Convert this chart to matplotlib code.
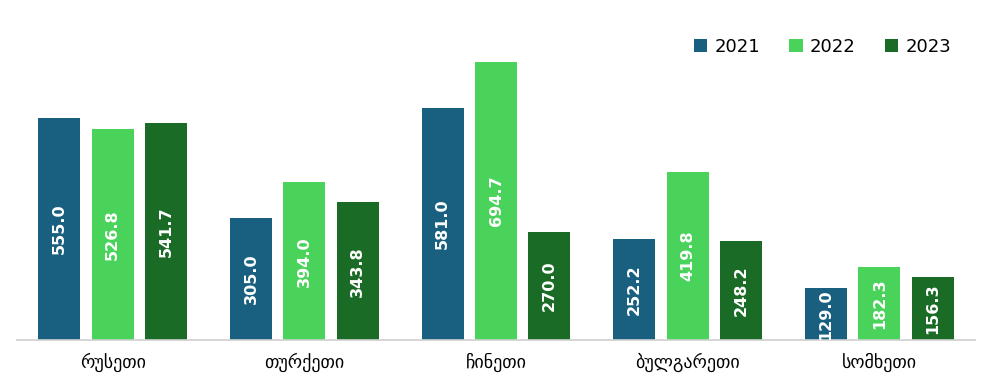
import matplotlib
matplotlib.use("Agg")
import matplotlib.pyplot as plt
import numpy as np

categories = ["რუსეთი", "თურქეთი", "ჩინეთი", "ბულგარეთი", "სომხეთი"]
years = ["2021", "2022", "2023"]
v2021 = [555.0, 305.0, 581.0, 252.2, 129.0]
v2022 = [526.8, 394.0, 694.7, 419.8, 182.3]
v2023 = [541.7, 343.8, 270.0, 248.2, 156.3]
colors = ["#185F80", "#49D35A", "#1A6B25"]

plt.rcParams['font.family'] = ['DejaVu Sans']
fig = plt.figure(figsize=(9.97, 3.81), dpi=100)
ax = fig.add_axes([17/997, 1 - 340/381, (975-17)/997, 320/381])

x = np.arange(len(categories))
width = 0.219
step = 0.279
series = [v2021, v2022, v2023]
for i, (vals, c, yr) in enumerate(zip(series, colors, years)):
    pos = x + (i - 1) * step
    ax.bar(pos, vals, width=width, color=c, label=yr)
    for p, v in zip(pos, vals):
        ax.text(p, v / 2, f"{v:.1f}", rotation=90, ha="center", va="center",
                color="white", fontweight="bold", fontsize=11.5)

ax.set_xlim(-0.5, len(categories) - 0.5)
ax.set_ylim(0, 800)
ax.set_yticks([])
ax.set_xticks(x)
ax.set_xticklabels(categories, fontsize=13)
ax.tick_params(axis="x", length=0, pad=9)
for s in ["top", "right", "left"]:
    ax.spines[s].set_visible(False)
ax.spines["bottom"].set_color("#d0d0d0")
ax.spines["bottom"].set_linewidth(1.2)

leg = ax.legend(loc="center right", bbox_to_anchor=(0.975, 0.916), ncol=3, frameon=False,
                fontsize=13, handlelength=0.75, handleheight=0.75, columnspacing=1.6,
                handletextpad=0.4, borderaxespad=0, borderpad=0)

fig.savefig("out.png", dpi=100)
